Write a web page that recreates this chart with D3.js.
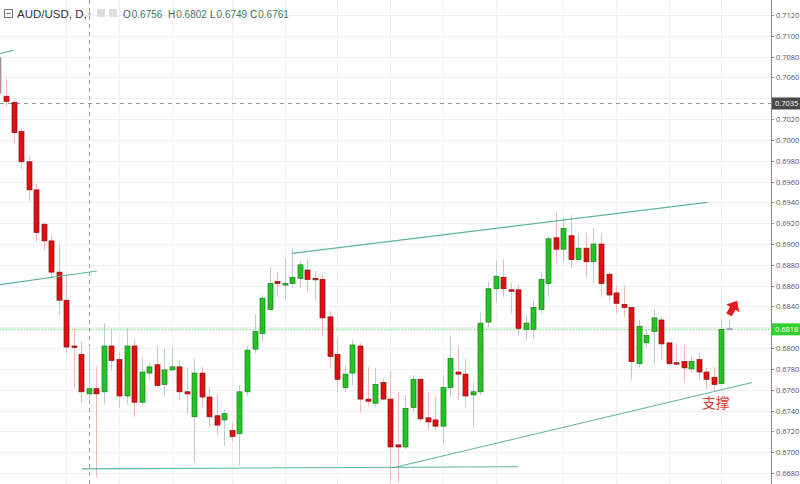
<!DOCTYPE html>
<html><head><meta charset="utf-8">
<script src="https://cdn.jsdelivr.net/npm/d3@7"></script>
<style>body{margin:0;background:#fff;overflow:hidden}svg{display:block;font-family:"Open Sans","DejaVu Sans",sans-serif}</style>
</head><body><svg id="c" width="800" height="484"></svg>
<script>
// OHLC per daily candle (index 0 is partially off-screen at left)
const opens  = [.7079,.7042,.7036,.7008,.6979,.6952,.6919,.6903,.6873,.6846,.6802,.6794,.6756,.6761,.6758,.6802,.6789,.6754,.6802,.6748,.6776,.6784,.6765,.6779,.6782,.6758,.6734,.6776,.6753,.6735,.6731,.6721,.6718,.6758,.6799,.6814,.6837,.6864,.6862,.6862,.6867,.6875,.6867,.6866,.6830,.6794,.6762,.6776,.6802,.6751,.6747,.6767,.6751,.6707,.6705,.6743,.6770,.6733,.6731,.6725,.6762,.6777,.6775,.6755,.6758,.6825,.6857,.6868,.6856,.6856,.6818,.6818,.6837,.6862,.6906,.6895,.6908,.6885,.6896,.6883,.6900,.6871,.6853,.6842,.6839,.6785,.6805,.6816,.6827,.6805,.6786,.6787,.6780,.6789,.6777,.6772,.6766,.6819];
const highs  = [.7091,.7060,.7038,.7011,.6985,.6958,.6921,.6909,.6900,.6870,.6820,.6806,.6802,.6783,.6824,.6819,.6796,.6819,.6809,.6791,.6786,.6802,.6799,.6801,.6788,.6781,.6790,.6782,.6763,.6756,.6741,.6728,.6764,.6802,.6832,.6851,.6878,.6873,.6886,.6896,.6883,.6886,.6874,.6871,.6836,.6810,.6783,.6808,.6805,.6782,.6781,.6771,.6778,.6758,.6755,.6774,.6771,.6758,.6753,.6774,.6812,.6802,.6790,.6767,.6834,.6864,.6884,.6885,.6863,.6860,.6832,.6846,.6873,.6907,.6931,.6925,.6928,.6910,.6910,.6915,.6910,.6872,.6860,.6860,.6840,.6827,.6819,.6837,.6830,.6805,.6805,.6803,.6793,.6795,.6781,.6782,.6828,.6827];
const lows   = [.7043,.7032,.6997,.6972,.6941,.6902,.6894,.6868,.6832,.6795,.6762,.6747,.6749,.6676,.6746,.6778,.6743,.6746,.6734,.6745,.6771,.6762,.6754,.6778,.6750,.6737,.6690,.6743,.6724,.6717,.6706,.6710,.6687,.6754,.6795,.6806,.6836,.6849,.6847,.6858,.6858,.6854,.6846,.6812,.6781,.6758,.6758,.6764,.6738,.6745,.6743,.6750,.6671,.6671,.6703,.6738,.6729,.6721,.6721,.6708,.6753,.6750,.6743,.6724,.6755,.6820,.6843,.6849,.6833,.6812,.6808,.6809,.6833,.6849,.6882,.6883,.6877,.6883,.6868,.6862,.6849,.6846,.6833,.6830,.6769,.6781,.6800,.6785,.6789,.6783,.6783,.6767,.6777,.6769,.6761,.6758,.6764,.6817];
const closes = [.7045,.7037,.7007,.6979,.6952,.6911,.6903,.6873,.6846,.6801,.6801,.6758,.6761,.6756,.6802,.6788,.6754,.6802,.6748,.6777,.6782,.6764,.6779,.6782,.6758,.6756,.6776,.6753,.6734,.6726,.6737,.6715,.6758,.6798,.6816,.6848,.6862,.6862,.6862,.6868,.6880,.6866,.6866,.6829,.6792,.6770,.6775,.6803,.6751,.6749,.6765,.6751,.6705,.6705,.6742,.6770,.6732,.6729,.6725,.6762,.6790,.6775,.6754,.6758,.6824,.6857,.6869,.6857,.6855,.6819,.6824,.6839,.6866,.6905,.6895,.6915,.6885,.6896,.6883,.6900,.6862,.6851,.6843,.6839,.6787,.6821,.6812,.6829,.6804,.6785,.6785,.6781,.6787,.6777,.6770,.6765,.6818,.6819];
const yTicks = [0.7120,0.7100,0.7080,0.7060,0.7040,0.7020,0.7000,0.6980,0.6960,0.6940,0.6920,0.6900,0.6880,0.6860,0.6840,0.6820,0.6800,0.6780,0.6760,0.6740,0.6720,0.6700,0.6680];
const vGridIdx = [8,15,22,30,37,44,51,58,65,74,81,88,95];
// trend lines as [position, price]; position p sits at candle p+1
const trendLines = [
  [[-0.8,0.7083],[0.93,0.7086]],
  [[-0.8,0.6861],[12.08,0.6874]],
  [[10.09,0.6684],[68,0.6686]],
  [[51.4,0.6685],[99.07,0.6767]],
  [[38,0.6891],[93.1,0.6940]]
];
const crossIdx = 12, crossPrice = 0.7035, lastPrice = 0.6818;
const header = {sym:"AUD/USD, D,", o:"0.6756", h:"0.6802", l:"0.6749", c:"0.6761"};
const note = "支撑";

const svg = d3.select("#c");
const x = d3.scaleLinear().domain([0,96]).range([6,729]);
const y = d3.scaleLinear().domain([0.7120,0.6680]).range([15,473]);
const axisX = 771;

svg.append("g").selectAll("line").data(yTicks).join("line")
  .attr("x1",0).attr("x2",axisX).attr("y1",d=>Math.round(y(d))+.5).attr("y2",d=>Math.round(y(d))+.5).attr("stroke","#eef0f2");
svg.append("g").selectAll("line").data(vGridIdx).join("line")
  .attr("x1",d=>Math.round(x(d))+.5).attr("x2",d=>Math.round(x(d))+.5).attr("y1",0).attr("y2",484).attr("stroke","#eef0f2");

svg.append("line").attr("x1",Math.round(x(crossIdx-1))+.5).attr("x2",Math.round(x(crossIdx-1))+.5).attr("y1",0).attr("y2",484)
  .attr("stroke","#9a9a9a").attr("stroke-dasharray","4,4");
svg.append("line").attr("x1",0).attr("x2",axisX).attr("y1",Math.round(y(crossPrice))+.5).attr("y2",Math.round(y(crossPrice))+.5)
  .attr("stroke","#9a9a9a").attr("stroke-dasharray","4,4");
svg.append("line").attr("x1",0).attr("x2",axisX).attr("y1",Math.round(y(lastPrice))+.5).attr("y2",Math.round(y(lastPrice))+.5)
  .attr("stroke","#7fe87f").attr("stroke-width",1.3).attr("stroke-dasharray","1.5,1.5");

const data = opens.map((o,i)=>({i,o,h:highs[i],l:lows[i],c:closes[i]}));
const col = d => d.i===0 ? {f:"#b39b9b",s:"#9a8484",w:"#c9b9b9"} : d.i===data.length-1 ? {f:"#8faabb",s:"#8faabb",w:"#b8c8d2"} :
  d.c>=d.o ? {f:"#22c322",s:"#1b7d1b",w:"#b9ccd6"} : {f:"#e01010",s:"#8a1010",w:"#f2b8b8"};
const g = svg.append("g");
g.selectAll("line").data(data).join("line")
  .attr("x1",d=>Math.round(x(d.i-1))+.5).attr("x2",d=>Math.round(x(d.i-1))+.5)
  .attr("y1",d=>y(d.h)).attr("y2",d=>y(d.l)).attr("stroke",d=>col(d).w);
g.selectAll("rect").data(data).join("rect")
  .attr("x",d=>Math.round(x(d.i-1))-2).attr("width",5)
  .attr("y",d=>y(Math.max(d.o,d.c))).attr("height",d=>Math.max(1.5,Math.abs(y(d.o)-y(d.c))))
  .attr("fill",d=>col(d).f).attr("stroke",d=>col(d).s).attr("stroke-width",0.7);

svg.append("g").selectAll("line").data(trendLines).join("line")
  .attr("x1",d=>x(d[0][0])).attr("y1",d=>y(d[0][1])).attr("x2",d=>x(d[1][0])).attr("y2",d=>y(d[1][1]))
  .attr("stroke","#5fb3a0").attr("stroke-width",1.1);

// arrow & note
const ax = x(96.0), ay = y(0.6832);
svg.append("path").attr("transform",`translate(${ax},${ay}) rotate(30) scale(1.25)`)
  .attr("d","M-2.5,0 L-2.5,-6 L-6,-6 L0,-13 L6,-6 L2.5,-6 L2.5,0 Z").attr("fill","#e8161c");
svg.append("text").attr("x",x(92.4)).attr("y",y(0.6745)+3).attr("font-size",14).attr("fill","#e03a3a")
  .attr("font-family","'Noto Sans CJK SC',sans-serif").text(note);

// axis
svg.append("rect").attr("x",axisX).attr("y",0).attr("width",29).attr("height",484).attr("fill","#fff");
svg.append("line").attr("x1",axisX+.5).attr("x2",axisX+.5).attr("y1",0).attr("y2",484).attr("stroke","#888");
const shownTicks = yTicks.filter(t=>Math.abs(y(t)-y(lastPrice))>9 && Math.abs(y(t)-y(crossPrice))>9);
const ta = svg.append("g");
ta.selectAll("line").data(yTicks).join("line").attr("x1",axisX).attr("x2",axisX+3)
  .attr("y1",d=>Math.round(y(d))+.5).attr("y2",d=>Math.round(y(d))+.5).attr("stroke","#888");
ta.selectAll("text").data(shownTicks).join("text").attr("x",axisX+5).attr("y",d=>y(d)+3)
  .attr("font-size",7.5).attr("fill","#555").text(d=>d.toFixed(4));
function tag(v,bg){
  svg.append("rect").attr("x",axisX+1).attr("y",y(v)-6).attr("width",29).attr("height",12).attr("fill",bg);
  svg.append("text").attr("x",axisX+4).attr("y",y(v)+3).attr("font-size",7.5).attr("fill","#fff").text(v.toFixed(4));
}
tag(crossPrice,"#4a4a4a");
tag(lastPrice,"#2ed12e");

// header
const hd = svg.append("g").attr("font-size",10).attr("font-family","'Liberation Sans',Arial,sans-serif");
hd.append("rect").attr("x",4.5).attr("y",9.5).attr("width",8).attr("height",8).attr("fill","none").attr("stroke","#777");
hd.append("line").attr("x1",6).attr("x2",11).attr("y1",13.5).attr("y2",13.5).attr("stroke","#777");
hd.append("text").attr("x",17).attr("y",18).attr("font-size",11.5).attr("fill","#333").text(header.sym);
hd.append("text").attr("x",88).attr("y",16).attr("font-size",6).attr("fill","#aaa").text("▾");
hd.append("rect").attr("x",97).attr("y",9).attr("width",8).attr("height",8).attr("fill","#ddd");
hd.append("rect").attr("x",109).attr("y",9).attr("width",8).attr("height",8).attr("fill","#ddd");
const vals = [["O",header.o,123],["H",header.h,168],["L",header.l,210],["C",header.c,250]];
vals.forEach(([k,v,px])=>{
  const t = hd.append("text").attr("x",px).attr("y",18);
  t.append("tspan").attr("fill","#555").text(k);
  t.append("tspan").attr("fill","#3f7a5e").attr("dx",1).text(v);
});
</script></body></html>
